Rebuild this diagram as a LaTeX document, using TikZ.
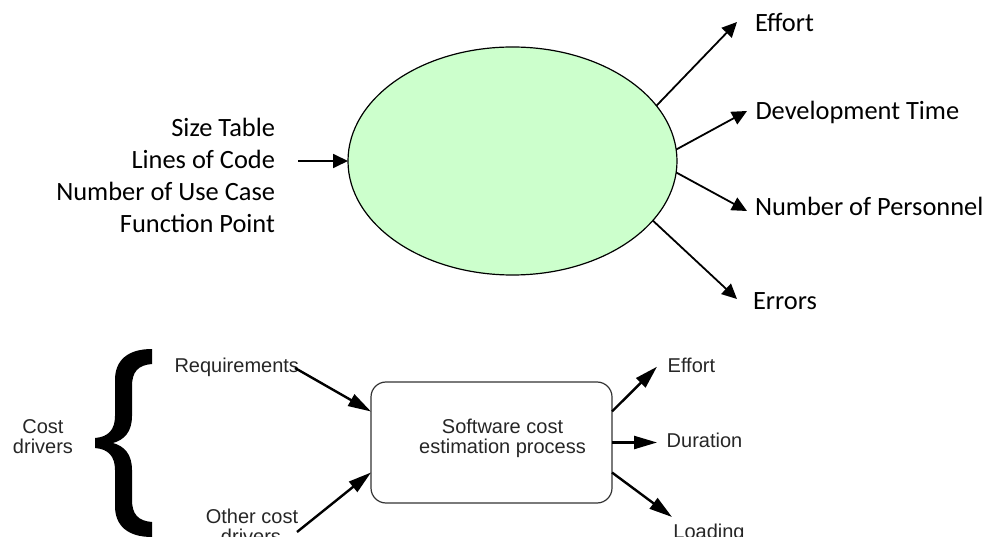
\documentclass[tikz,border=0pt]{standalone}
\usepackage{fontspec}
\setmainfont{Carlito}
\newfontfamily\arialf{Liberation Sans}
\usetikzlibrary{arrows.meta,shapes.geometric}
\definecolor{lgreen}{HTML}{CCFFCC}
\begin{document}
\begin{tikzpicture}[x=1pt,y=-1pt,
  topfont/.style={font=\fontsize{26.4}{32}\selectfont, inner sep=0pt, outer sep=0pt},
  botfont/.style={font=\arialf\fontsize{20}{20}\selectfont, inner sep=0pt, outer sep=0pt, text=black!85},
  toparrow/.style={line width=1.8pt, -{Triangle[length=15pt,width=14pt]}},
  botarrow/.style={line width=2.4pt, -{Triangle[length=23pt,width=13pt]}}]
\useasboundingbox (0,0) rectangle (996,537);
\clip (0,0) rectangle (996,537);

% ---------- top diagram ----------
\node[ellipse, draw, line width=1.2pt, fill=lgreen, minimum width=329pt, minimum height=228pt, inner sep=0pt, outer sep=0pt] (ell) at (512.5,161) {};

\node[topfont, anchor=base east] (sz) at (275,136.5) {Size Table};
\node[topfont, anchor=base east] (loc) at (275,168.5) {Lines of Code};
\node[topfont, anchor=base east] (uc) at (275,200.5) {Number of Use Case};
\node[topfont, anchor=base east] (fp) at (275,233) {Function Point};

\node[topfont, anchor=base west] (eff) at (755,31.7) {Effort};
\node[topfont, anchor=base west] (dev) at (755.5,120) {Development Time};
\node[topfont, anchor=base west] (per) at (755,216) {Number of Personnel};
\node[topfont, anchor=base west] (err) at (753,310) {Errors};

\coordinate (inS) at (298,161);
\coordinate (tE) at (737,22);
\coordinate (tD) at (747,111);
\coordinate (tP) at (747,211);
\coordinate (tR) at (737,299);

\draw[toparrow] (inS) -- (ell.west);
\draw[toparrow] (ell.21.5) -- (tE);
\draw[toparrow] (ell.4.5) -- (tD);
\draw[toparrow] (ell.-4.2) -- (tP);
\draw[toparrow] (ell.-23.6) -- (tR);

% ---------- bottom diagram ----------
\node[draw=black!80, line width=1.2pt, rounded corners=15pt, minimum width=241pt, minimum height=121pt, inner sep=0pt, outer sep=0pt] (box) at (491.5,442.5) {};
\node[botfont, anchor=base] (sw1) at (502.5,433) {Software cost};
\node[botfont, anchor=base] (sw2) at (502.5,453) {estimation process};

\node[botfont, anchor=base west] (req) at (174.5,372.7) {Requirements};
\node[botfont, anchor=base] (cd1) at (43,433) {Cost};
\node[botfont, anchor=base] (cd2) at (43,453) {drivers};
\node[botfont, anchor=base] (oc1) at (252,523) {Other cost};
\node[botfont, anchor=base] (oc2) at (251,543) {drivers};

\node[botfont, anchor=base west] (beff) at (667.7,372.7) {Effort};
\node[botfont, anchor=base west] (bdur) at (666.7,447.3) {Duration};
\node[botfont, anchor=base west] (bload) at (673.4,538) {Loading};

% big brace
\fill (152,349) -- (152,364) .. controls (138,365) and (132,372) .. (132,386)
  -- (132,416) .. controls (132,432) and (124,440) .. (113,443)
  .. controls (124,446) and (132,454) .. (132,470)
  -- (132,500) .. controls (132,514) and (138,521) .. (152,522)
  -- (152,537) .. controls (128,537) and (115,526) .. (115,506)
  -- (115,470) .. controls (115,456) and (108,449) .. (95,448)
  -- (95,438) .. controls (108,437) and (115,430) .. (115,416)
  -- (115,380) .. controls (115,360) and (128,349) .. (152,349) -- cycle;

\coordinate (rS) at (295,368);
\coordinate (oS) at (297,532);
\coordinate (bE) at (657,366.7);
\coordinate (bD) at (657,442.5);
\coordinate (bL) at (672,517);

\draw[botarrow] (rS) -- ([yshift=31pt]box.west);
\draw[botarrow] (oS) -- ([yshift=-30pt]box.west);
\draw[botarrow] ([yshift=31pt]box.east) -- (bE);
\draw[botarrow] (box.east) -- (bD);
\draw[botarrow] ([yshift=-30pt]box.east) -- (bL);
\end{tikzpicture}
\end{document}
